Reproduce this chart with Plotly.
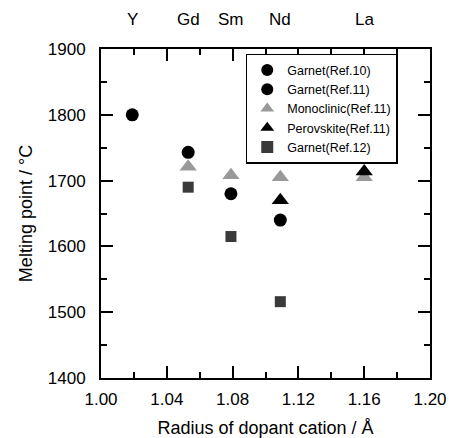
import plotly.graph_objects as go

# Data
garnet10_x = [1.019]
garnet10_y = [1800]
garnet11_x = [1.053, 1.079, 1.109]
garnet11_y = [1743, 1680, 1640]
mono11_x = [1.053, 1.079, 1.109, 1.160]
mono11_y = [1721, 1708, 1705, 1705]
perov11_x = [1.109, 1.160]
perov11_y = [1670, 1714]
garnet12_x = [1.053, 1.079, 1.109]
garnet12_y = [1690, 1615, 1516]
top_labels = ["Y", "Gd", "Sm", "Nd", "La"]
top_positions = [1.019, 1.053, 1.079, 1.109, 1.160]

FONT = "Liberation Sans, Arial, Helvetica, sans-serif"

fig = go.Figure()
fig.add_trace(go.Scatter(x=garnet10_x, y=garnet10_y, mode="markers", name="Garnet(Ref.10)",
                         marker=dict(symbol="circle", size=13, color="black")))
fig.add_trace(go.Scatter(x=garnet11_x, y=garnet11_y, mode="markers", name="Garnet(Ref.11)",
                         marker=dict(symbol="circle", size=13, color="black")))
fig.add_trace(go.Scatter(x=mono11_x, y=mono11_y, mode="markers", name="Monoclinic(Ref.11)",
                         marker=dict(symbol="triangle-up", size=15, color="#999999")))
fig.add_trace(go.Scatter(x=perov11_x, y=perov11_y, mode="markers", name="Perovskite(Ref.11)",
                         marker=dict(symbol="triangle-up", size=15, color="black")))
fig.add_trace(go.Scatter(x=garnet12_x, y=garnet12_y, mode="markers", name="Garnet(Ref.12)",
                         marker=dict(symbol="square", size=11, color="#3a3a3a")))

for lab, pos in zip(top_labels, top_positions):
    fig.add_annotation(x=pos, y=1, xref="x", yref="paper", text=lab, showarrow=False,
                       yanchor="bottom", yshift=18, font=dict(size=17, color="black", family=FONT))

axis_common = dict(showline=True, linecolor="black", linewidth=2, mirror="ticks",
                   ticks="inside", ticklen=12, tickwidth=1.5, tickcolor="black",
                   showgrid=False, zeroline=False, automargin=False,
                   tickfont=dict(size=17, color="black", family=FONT))

fig.update_xaxes(range=[1.0, 1.2], dtick=0.04, tickformat=".2f",
                 minor=dict(dtick=0.02, ticks="inside", ticklen=6, tickwidth=1.5, tickcolor="black", showgrid=False),
                 title=dict(text="Radius of dopant cation / Å", font=dict(size=18, color="black", family=FONT), standoff=14),
                 ticklabelstandoff=5,
                 **axis_common)
fig.update_yaxes(range=[1400, 1900], dtick=100,
                 minor=dict(dtick=50, ticks="inside", ticklen=6, tickwidth=1.5, tickcolor="black", showgrid=False),
                 title=dict(text="Melting point / °C", font=dict(size=18, color="black", family=FONT), standoff=10),
                 ticklabelstandoff=10,
                 **axis_common)

fig.update_layout(
    width=449, height=438,
    margin=dict(l=101, r=19, t=49, b=60),
    plot_bgcolor="white", paper_bgcolor="white",
    font=dict(family=FONT, color="black"),
    showlegend=True,
    legend=dict(x=0.44, y=0.985, xanchor="left", yanchor="top",
                bgcolor="white", bordercolor="black", borderwidth=1.5,
                font=dict(size=12.5, color="black", family=FONT),
                entrywidth=118, entrywidthmode="pixels",
                itemsizing="constant", tracegroupgap=0),
)

fig.write_html("out.html")
